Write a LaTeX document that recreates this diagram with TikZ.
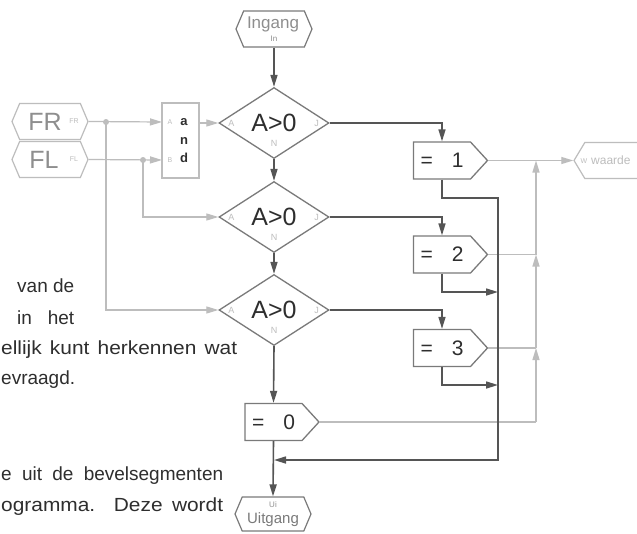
\documentclass[tikz,border=0pt]{standalone}
\usepackage{fontspec}
\setmainfont{Liberation Sans}
\usetikzlibrary{arrows.meta,shapes.geometric,shapes.symbols}
\definecolor{dk}{HTML}{555555}
\definecolor{md}{HTML}{7A7A7A}
\definecolor{lt}{HTML}{BDBDBD}
\definecolor{txt}{HTML}{2E2E2E}
\definecolor{gtx}{HTML}{8E8E8E}
\tikzset{
  dec/.style={diamond, draw=md, line width=1.3pt, minimum width=110pt, minimum height=71pt,
    inner sep=0pt, font=\fontsize{25}{25}\selectfont, text=txt},
  setbox/.style={signal, signal to=east, signal pointer angle=95, draw=md, line width=1.3pt,
    minimum width=74pt, minimum height=37pt, inner sep=0pt, font=\fontsize{21}{21}\selectfont, text=txt},
  term/.style={signal, signal to=east and west, signal pointer angle=134, draw=md, line width=1.2pt,
    minimum width=76pt, minimum height=36pt, inner sep=0pt},
  lterm/.style={term, draw=lt},
  dkl/.style={draw=dk, line width=1.6pt},
  ltl/.style={draw=lt, line width=1.2pt},
  arr/.style={-{Triangle[length=12pt,width=7pt]}},
  lbl/.style={text=lt, font=\fontsize{9}{9}\selectfont, inner sep=0pt},
  tiny/.style={text=lt, font=\fontsize{7}{7}\selectfont, inner sep=0pt},
  pagetext/.style={font=\fontsize{19}{19}\selectfont, text=txt, inner sep=0pt, anchor=base west},
  dotj/.style={circle, fill=lt, inner sep=0pt, minimum size=6pt}
}
\begin{document}
\begin{tikzpicture}[x=1pt, y=-1pt]
\useasboundingbox (0,0) rectangle (637,533);
\clip (0,0) rectangle (637,533);
\fill[white] (0,0) rectangle (637,533);

% page text fragments
\node[pagetext] (t1) at (17,292) {\makebox[57pt][s]{van de}};
\node[pagetext] (t2) at (17,324) {\makebox[57pt][s]{in het}};
\node[pagetext] (t3) at (1,354) {\scalebox{1.1}[1]{\makebox[214.5pt][s]{ellijk kunt herkennen wat}}};
\node[pagetext] (t4) at (1,384) {evraagd.};
\node[pagetext] (t5) at (1,480) {\makebox[222pt][s]{e uit de bevelsegmenten}};
\node[pagetext] (t6) at (1,511) {\scalebox{1.1}[1]{\makebox[201.8pt][s]{ogramma. Deze wordt}}};

% terminals
\node[term] (in) at (274,29) {};
\node[text=gtx, font=\fontsize{17}{17}\selectfont, inner sep=0pt] (inT) at (273,24) {Ingang};
\node[text=gtx, font=\fontsize{8}{8}\selectfont, inner sep=0pt] (inS) at (274,39) {In};
\node[term, minimum height=34pt] (out) at (273,514) {};
\node[text=gtx, font=\fontsize{8}{8}\selectfont, inner sep=0pt] (outS) at (273,505) {Ui};
\node[text=md, font=\fontsize{15}{15}\selectfont, inner sep=0pt] (outT) at (273,520) {Uitgang};

\node[lterm] (FR) at (50,121.5) {};
\node[text=gtx, font=\fontsize{25}{25}\selectfont, inner sep=0pt] (FRT) at (45,121.5) {FR};
\node[tiny] (FRS) at (74,121.5) {FR};
\node[lterm] (FL) at (50,159.5) {};
\node[text=gtx, font=\fontsize{25}{25}\selectfont, inner sep=0pt] (FLT) at (44,159.5) {FL};
\node[tiny] (FLS) at (74,159.5) {FL};

\node[lterm, signal pointer angle=118, minimum width=92pt] (wa) at (620,160.5) {};
\node[text=lt, font=\fontsize{12}{12}\selectfont, inner sep=0pt, anchor=west] (waT) at (591,160.5) {waarde};
\node[tiny] (waS) at (584,161) {W};

% and gate
\node[draw=lt, line width=1.2pt, minimum width=37pt, minimum height=75pt, inner sep=0pt] (and) at (180.5,140.5) {};
\node[text=txt, font=\bfseries\fontsize{13}{18.5}\selectfont, align=center, inner sep=0pt] (andT) at (184,141) {a\\n\\d};
\node[tiny] (andA) at (170,122) {A};
\node[tiny] (andB) at (170,160) {B};
\coordinate (andAin) at (162,122);
\coordinate (andBin) at (162,160);
\coordinate (andOut) at (199,123);

% decisions
\node[dec] (d1) at (274,123) {A>0};
\node[dec] (d2) at (274,217) {A>0};
\node[dec] (d3) at (274,310) {A>0};
\foreach \d in {d1,d2,d3}{
  \node[lbl] at ([xshift=13pt]\d.west) {A};
  \node[lbl] at ([xshift=-13pt]\d.east) {J};
  \node[lbl] at ([yshift=16pt]\d.south) {N};
}

% set boxes
\node[setbox] (b1) at (442,160.5) {=\hspace{19pt}1};
\node[setbox] (b2) at (442,254.5) {=\hspace{19pt}2};
\node[setbox] (b3) at (442,348) {=\hspace{19pt}3};
\node[setbox] (b0) at (273.5,422) {=\hspace{19pt}0};

% coordinates
\coordinate (j1) at (106,122);
\coordinate (j2) at (143,160);
\coordinate (r1) at (498,198);
\coordinate (r2) at (498,292);
\coordinate (r3) at (498,385);
\coordinate (r4) at (498,460);
\coordinate (jm) at (274,460);
\coordinate (l1) at (536,160.5);
\coordinate (l2) at (536,254.5);
\coordinate (l3) at (536,348);
\coordinate (l4) at (536,422);

% light connectors (inputs)
\draw[ltl, arr] (FR.east) -- (andAin);
\draw[ltl, arr] (FL.east) -- (andBin);
\draw[ltl, arr] (andOut) -- (d1.west);
\draw[ltl, arr] (j1) |- (d3.west);
\draw[ltl, arr] (j2) |- (d2.west);
\node[dotj] at (j1) {};
\node[dotj] at (j2) {};

% light connectors (outputs)
\draw[ltl, arr] (b1.east) -- (wa.west);
\draw[ltl] (b2.east) -- (l2);
\draw[ltl] (b3.east) -- (l3);
\draw[ltl] (b0.east) -- (l4);
\draw[ltl, arr] (l4) -- (l3);
\draw[ltl, arr] (l3) -- (l2);
\draw[ltl, arr] (l2) -- (l1);

% dark flow
\draw[dkl, arr] (in.south) -- (d1.north);
\draw[dkl, arr] (d1.south) -- (d2.north);
\draw[dkl, arr] (d2.south) -- (d3.north);
\draw[dkl, arr] (d3.south) -- (b0.north);
\draw[dkl, arr] (b0.south) -- (out.north);
\draw[dkl, arr] (d1.east) -| (b1.north);
\draw[dkl, arr] (d2.east) -| (b2.north);
\draw[dkl, arr] (d3.east) -| (b3.north);
\draw[dkl, arr] (b1.south) |- (r1) -- (r4) -- (jm);
\draw[dkl, arr] (b2.south) |- (r2);
\draw[dkl, arr] (b3.south) |- (r3);
\end{tikzpicture}
\end{document}
